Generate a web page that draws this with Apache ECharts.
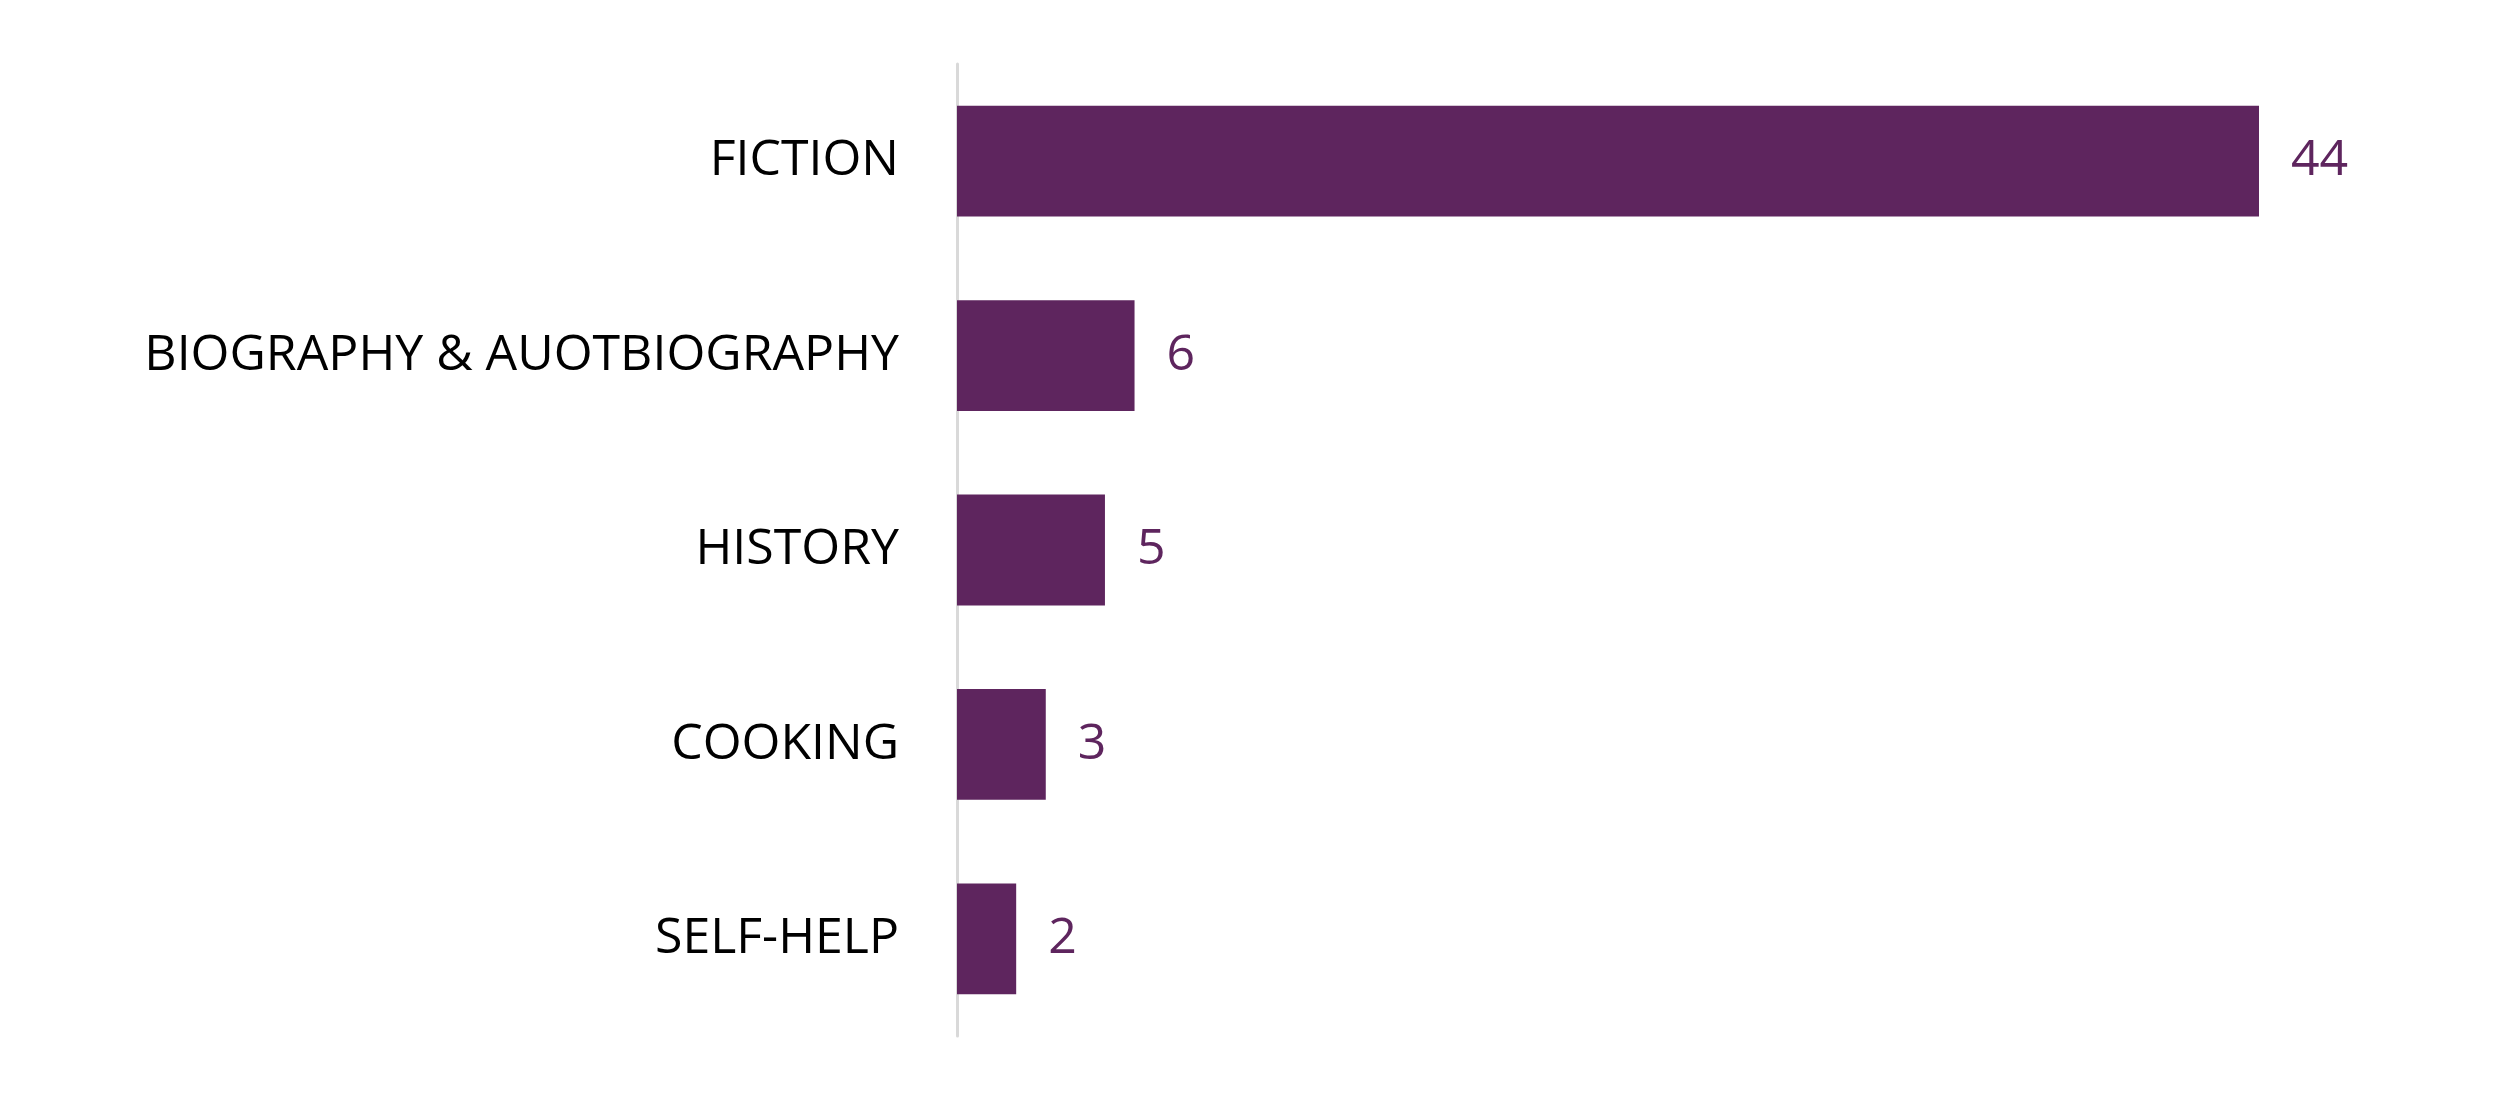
<!DOCTYPE html>
<html><head><meta charset="utf-8">
<script src="https://cdn.jsdelivr.net/npm/echarts@6/dist/echarts.min.js"></script>
<style>html,body{margin:0;background:#fff}#c{width:2500px;height:1099px}</style>
</head><body><div id="c"></div>
<script>
const categories = ["FICTION","BIOGRAPHY & AUOTBIOGRAPHY","HISTORY","COOKING","SELF-HELP"];
const values = [44,6,5,3,2];
const chart = echarts.init(document.getElementById('c'));
chart.setOption({
  animation:false,
  grid:{left:957,top:64,bottom:63,right:241},
  xAxis:{type:'value',min:0,max:44,show:false},
  yAxis:{type:'category',inverse:true,data:categories,
    axisLine:{lineStyle:{color:'#d9d9d9',width:3}},axisTick:{show:false},
    axisLabel:{margin:58,color:'#000',fontSize:50,fontFamily:'Open Sans'}},
  series:[{type:'bar',data:values,barCategoryGap:'43%',
    itemStyle:{color:'#5E255E'},
    label:{show:true,position:'right',distance:32,color:'#5E255E',fontSize:50,fontFamily:'Open Sans'}}]
});
</script></body></html>
